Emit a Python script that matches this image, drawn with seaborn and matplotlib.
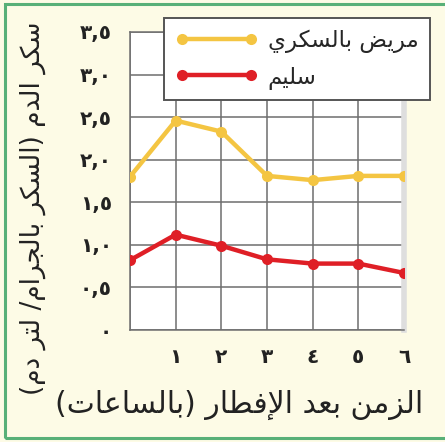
import numpy as np
import pandas as pd
import matplotlib
matplotlib.use("Agg")
import matplotlib.pyplot as plt
from matplotlib.patches import Rectangle
import seaborn as sns

# ---------------- data ----------------
hours = [0, 1, 2, 3, 4, 5, 6]
diabetic = [1.80, 2.46, 2.33, 1.81, 1.76, 1.81, 1.81]
healthy = [0.82, 1.12, 0.99, 0.83, 0.78, 0.78, 0.67]
series_names = ["مريض بالسكري", "سليم"]
y_ticks = [0, 0.5, 1.0, 1.5, 2.0, 2.5, 3.0, 3.5]
y_tick_labels = ["٠", "٠,٥", "١,٠", "١,٥", "٢,٠", "٢,٥", "٣,٠", "٣,٥"]
x_ticks = [1, 2, 3, 4, 5, 6]
x_tick_labels = ["١", "٢", "٣", "٤", "٥", "٦"]
x_label = "الزمن بعد الإفطار (بالساعات)"
y_label = "سكر الدم (السكر بالجرام/ لتر دم)"

# ------------- minimal Arabic shaping (presentation forms + RTL order) -------------
FORMS = {
    'ا': ('\uFE8D', '\uFE8E', None, None),
    'إ': ('\uFE87', '\uFE88', None, None),
    'ب': ('\uFE8F', '\uFE90', '\uFE91', '\uFE92'),
    'ت': ('\uFE95', '\uFE96', '\uFE97', '\uFE98'),
    'ج': ('\uFE9D', '\uFE9E', '\uFE9F', '\uFEA0'),
    'د': ('\uFEA9', '\uFEAA', None, None),
    'ر': ('\uFEAD', '\uFEAE', None, None),
    'ز': ('\uFEAF', '\uFEB0', None, None),
    'س': ('\uFEB1', '\uFEB2', '\uFEB3', '\uFEB4'),
    'ض': ('\uFEBD', '\uFEBE', '\uFEBF', '\uFEC0'),
    'ط': ('\uFEC1', '\uFEC2', '\uFEC3', '\uFEC4'),
    'ع': ('\uFEC9', '\uFECA', '\uFECB', '\uFECC'),
    'ف': ('\uFED1', '\uFED2', '\uFED3', '\uFED4'),
    'ك': ('\uFED9', '\uFEDA', '\uFEDB', '\uFEDC'),
    'ل': ('\uFEDD', '\uFEDE', '\uFEDF', '\uFEE0'),
    'م': ('\uFEE1', '\uFEE2', '\uFEE3', '\uFEE4'),
    'ن': ('\uFEE5', '\uFEE6', '\uFEE7', '\uFEE8'),
    'ي': ('\uFEF1', '\uFEF2', '\uFEF3', '\uFEF4'),
}
LAM_ALEF = {'ا': ('\uFEFB', '\uFEFC'), 'إ': ('\uFEF9', '\uFEFA')}


def shape(text):
    chars = list(text)
    n = len(chars)
    dual = lambda c: c in FORMS and FORMS[c][2] is not None
    out = []
    i = 0
    while i < n:
        c = chars[i]
        if c not in FORMS:
            out.append(c)
            i += 1
            continue
        prev = chars[i - 1] if i > 0 else None
        jp = prev is not None and dual(prev)
        if c == 'ل' and i + 1 < n and chars[i + 1] in LAM_ALEF:
            iso, fin = LAM_ALEF[chars[i + 1]]
            out.append(fin if jp else iso)
            i += 2
            continue
        nxt = chars[i + 1] if i + 1 < n else None
        jn = dual(c) and nxt is not None and nxt in FORMS
        iso, fin, ini, med = FORMS[c]
        out.append(med if (jp and jn) else fin if jp else ini if jn else iso)
        i += 1
    s = ''.join(out)[::-1]
    return s.translate(str.maketrans('()', ')('))


# ---------------- figure ----------------
sns.set_style("white")
plt.rcParams['font.family'] = ['DejaVu Sans']

bg = "#FDFBE6"
fig = plt.figure(figsize=(4.45, 4.42), dpi=100, facecolor=bg)
ax = fig.add_axes([130 / 445, 1 - 330 / 442, 274 / 445, 298 / 442])
ax.set_facecolor("white")

df = pd.DataFrame({
    "hour": hours * 2,
    "value": diabetic + healthy,
    "group": [series_names[0]] * len(hours) + [series_names[1]] * len(hours),
})
colors = {series_names[0]: "#F4C542", series_names[1]: "#DF1F26"}
for name in series_names:
    sub = df[df["group"] == name]
    sns.lineplot(data=sub, x="hour", y="value", ax=ax, color=colors[name],
                 marker="o", markersize=8, markeredgewidth=0, linewidth=3.2,
                 label=shape(name), zorder=5)

ax.set_xlim(0, 6)
ax.set_ylim(0, 3.5)
ax.set_xticks(x_ticks)
ax.set_xticklabels(x_tick_labels)
ax.set_yticks(y_ticks)
ax.set_yticklabels(y_tick_labels)
ax.set_xticks(range(0, 7), minor=True)
ax.tick_params(axis="both", length=0, labelsize=14.5, colors="#222222", pad=13)
for lab in ax.get_xticklabels() + ax.get_yticklabels():
    lab.set_fontweight("bold")
ax.grid(True, which="both", color="#6e6e6e", linewidth=1.1)
for s in ["left", "bottom", "top"]:
    ax.spines[s].set_color("#6e6e6e")
    ax.spines[s].set_linewidth(1.1)
ax.spines["right"].set_color("#dedede")
ax.spines["right"].set_linewidth(4)

ax.set_xlabel("")
ax.set_ylabel("")
fig.text(239 / 445, 1 - 405 / 442, shape(x_label), ha="center", va="center",
         fontsize=21.5, color="#222222")
fig.text(33 / 445, 1 - 208 / 442, shape(y_label), ha="center", va="center",
         rotation=90, fontsize=19, color="#222222")

leg = ax.legend(loc="upper right", bbox_to_anchor=(430 / 445, 1 - 18 / 442),
                bbox_transform=fig.transFigure, numpoints=2, handlelength=3.6,
                fontsize=16.5, frameon=True, fancybox=False, borderaxespad=0,
                borderpad=0.5, labelspacing=0.5, handletextpad=0.45)
leg.get_frame().set_facecolor("white")
leg.get_frame().set_edgecolor("#555555")
leg.get_frame().set_linewidth(1.4)
leg.get_frame().set_alpha(1)
leg.set_zorder(10)

fig.patches.append(Rectangle((5 / 445, 4 / 442), 1.05, 434 / 442,
                             transform=fig.transFigure, fill=False,
                             edgecolor="#58B078", linewidth=2.2))

fig.savefig("out.png", dpi=100, facecolor=bg)
